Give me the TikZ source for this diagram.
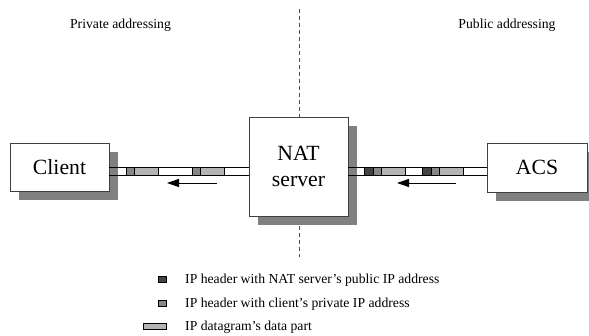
\documentclass[tikz,border=0pt]{standalone}
\usepackage{fontspec}
\setmainfont{Liberation Serif}
\usetikzlibrary{shadows,arrows.meta}
\definecolor{shadowgray}{HTML}{808080}
\definecolor{hdrdark}{HTML}{444444}
\definecolor{hdrmid}{HTML}{888888}
\definecolor{datagray}{HTML}{B4B4B4}
\tikzset{
  box/.style={draw=black!75, line width=0.8pt, fill=white, inner sep=0pt,
    font=\fontsize{21.7}{26.5}\selectfont, align=center,
    drop shadow={shadow xshift=9pt, shadow yshift=-9.5pt, fill=shadowgray, opacity=1}},
  small/.style={font=\fontsize{13.7}{16}\selectfont, inner sep=0pt},
  strip/.style={line width=0.9pt, black},
  pkt/.style={draw=black, line width=0.6pt},
  flow/.style={line width=0.9pt, -{Triangle[length=12pt,width=8pt]}},
  divider/.style={black!70, line width=0.8pt, dash pattern=on 4pt off 3pt}
}
\begin{document}
\begin{tikzpicture}[x=1pt,y=-1pt]
\useasboundingbox (0,0) rectangle (589,336);
% divider
\coordinate (dtop) at (299,9);
\coordinate (dbot) at (299,257);
\draw[divider] (dtop) -- (dbot);
% headings
\node[small, anchor=base] (priv) at (120.5,29) {Private addressing};
\node[small, anchor=base] (pub) at (507,29) {Public addressing};
% boxes
\node[box, minimum width=99pt, minimum height=48pt] (client) at (59.5,167) {Client};
\node[box, minimum width=99pt, minimum height=99pt] (nat) at (298.5,166.5) {NAT\\server};
\node[box, minimum width=100pt, minimum height=49pt] (acs) at (537,167.5) {ACS};
% left strip
\draw[strip] (client.east) -- (client.east -| nat.west);
\draw[strip] ([yshift=-8pt]client.east) -- ([yshift=-8pt]client.east -| nat.west);
% right strip
\draw[strip] (acs.west -| nat.east) -- (acs.west);
\draw[strip] ([yshift=-8pt]acs.west -| nat.east) -- ([yshift=-8pt]acs.west);
% left packets
\filldraw[pkt, fill=hdrmid] (126,167) rectangle (134,175);
\filldraw[pkt, fill=datagray] (134,167) rectangle (158,175);
\filldraw[pkt, fill=hdrmid] (192,167) rectangle (200,175);
\filldraw[pkt, fill=datagray] (200,167) rectangle (224,175);
% right packets
\filldraw[pkt, fill=hdrdark] (364,167) rectangle (373,175);
\filldraw[pkt, fill=hdrmid] (373,167) rectangle (381,175);
\filldraw[pkt, fill=datagray] (381,167) rectangle (405,175);
\filldraw[pkt, fill=hdrdark] (422,167) rectangle (431,175);
\filldraw[pkt, fill=hdrmid] (431,167) rectangle (439,175);
\filldraw[pkt, fill=datagray] (439,167) rectangle (463,175);
% arrows
\coordinate (la1) at (217,183);
\coordinate (la2) at (167,183);
\coordinate (ra1) at (456,183);
\coordinate (ra2) at (397,183);
\draw[flow] (la1) -- (la2);
\draw[flow] (ra1) -- (ra2);
% legend
\filldraw[pkt, fill=hdrdark] (158,276) rectangle (166.5,282.5);
\filldraw[pkt, fill=hdrmid] (158,300) rectangle (166.5,306.5);
\filldraw[pkt, fill=datagray] (143,323.3) rectangle (166.5,329);
\node[small, anchor=base west] (l1) at (185,283.5) {IP header with NAT server’s public IP address};
\node[small, anchor=base west] (l2) at (185,307.5) {IP header with client’s private IP address};
\node[small, anchor=base west] (l3) at (185,330.5) {IP datagram’s data part};
\end{tikzpicture}
\end{document}
